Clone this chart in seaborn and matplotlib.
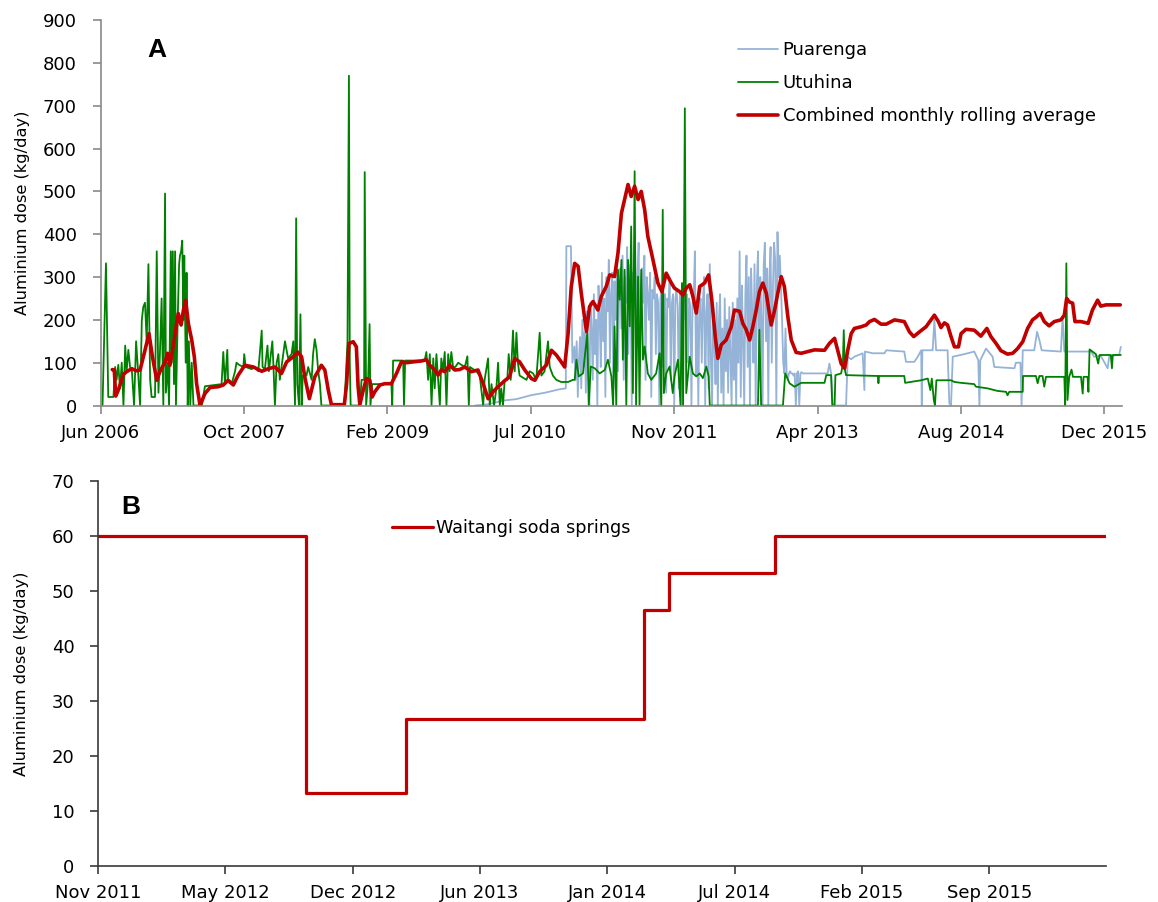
import numpy as np
import pandas as pd
import matplotlib
matplotlib.use("Agg")
import matplotlib.pyplot as plt
import seaborn as sns

# --- panel A: day offsets from 1 Jun 2006, dose in kg/day ---
start_a = pd.Timestamp("2006-06-01")

# Puarenga, sparse parts
puarenga_early_day = [1305, 1350, 1409, 1450, 1500, 1550, 1600, 1622, 1624, 1640, 1645]
puarenga_early_val = [0, 3, 12, 15, 24, 30, 38, 40, 372, 372, 100]
# Puarenga, dense part sampled every 4 days from day 1652 to 2452
puarenga_dense_val = [
    138, 60, 150, 20, 110, 160, 40, 200, 90, 170,
    30, 220, 130, 0, 240, 180, 60, 260, 120, 200,
    0, 280, 210, 90, 310, 150, 250, 20, 300, 220,
    340, 100, 260, 310, 40, 290, 200, 330, 80, 270,
    320, 180, 350, 60, 300, 240, 370, 120, 280, 330,
    0, 310, 260, 360, 150, 300, 380, 90, 280, 320,
    240, 350, 60, 300, 260, 200, 310, 20, 270, 250,
    300, 120, 260, 240, 0, 250, 270, 90, 240, 260,
    30, 250, 230, 290, 60, 240, 260, 0, 250, 270,
    230, 40, 260, 250, 0, 240, 345, 200, 260, 100,
    250, 230, 0, 240, 250, 360, 70, 240, 0, 230,
    250, 100, 240, 300, 0, 220, 260, 40, 330, 100,
    0, 230, 150, 50, 240, 0, 200, 260, 30, 180,
    0, 250, 80, 200, 30, 230, 120, 0, 240, 60,
    200, 0, 250, 100, 360, 20, 280, 150, 0, 260,
    350, 90, 300, 0, 320, 220, 100, 330, 0, 280,
    360, 60, 300, 200, 0, 330, 380, 150, 320, 0,
    300, 370, 100, 270, 380, 340, 0, 405, 300, 350,
    280, 200, 100, 75, 180, 75, 60, 75, 80, 75,
    75, 70, 75, 0, 75, 80, 0, 75, 78, 75,
    75]
puarenga_late_day = [2489, 2535, 2541, 2547, 2553, 2599, 2605, 2617, 2628, 2657, 2663, 2665,
                     2692, 2733, 2739, 2802, 2808, 2837, 2849, 2861, 2863, 2865, 2901, 2907,
                     2913, 2953, 2959, 2965, 2971, 3011, 3046, 3060, 3064, 3067, 3087, 3110,
                     3116, 3186, 3191, 3207, 3211, 3215, 3255, 3265, 3273, 3281, 3348, 3354,
                     3360, 3453, 3464, 3487, 3511, 3517, 3551, 3557]
puarenga_late_val = [75, 75, 98, 75, 0, 0, 114, 108, 114, 122, 36, 126,
                     122, 122, 129, 126, 102, 102, 114, 129, 0, 129, 129, 200,
                     129, 129, 5, 0, 114, 120, 126, 106, 0, 106, 133, 114,
                     90, 87, 100, 100, 0, 129, 129, 172, 153, 129, 126, 207,
                     126, 126, 114, 116, 87, 116, 118, 137]

utuhina_day = [0, 7, 19, 27, 45, 51, 56, 62, 68, 74, 80, 86, 91, 97, 103, 109, 117,
               124, 130, 138, 144, 149, 155, 161, 167, 173, 178, 190, 196, 202, 207,
               213, 219, 225, 228, 234, 239, 245, 248, 252, 256, 260, 263, 269, 274,
               277, 281, 285, 289, 292, 297, 300, 304, 308, 313, 318, 324, 353, 364,
               422, 428, 434, 442, 445, 457, 469, 474, 483, 498, 501, 506, 527, 538,
               550, 562, 565, 573, 582, 587, 599, 603, 608, 614, 620, 625, 643, 654,
               666, 672, 678, 682, 686, 692, 697, 701, 705, 718, 724, 736, 741, 747,
               753, 759, 765, 770, 840,
               850, 854, 861, 866, 869, 872, 904, 910, 919, 921, 926, 933, 938, 941,
               947, 1014, 1017, 1020, 1055, 1058, 1062, 1130, 1136, 1142, 1148, 1154,
               1160, 1165, 1171, 1177, 1183, 1188, 1194, 1200, 1206, 1212, 1217, 1223,
               1229, 1237, 1247, 1258, 1270, 1279, 1284, 1288, 1299, 1310, 1322, 1334,
               1339, 1351, 1357, 1363, 1372, 1380, 1386, 1392, 1397, 1403, 1409, 1418,
               1423, 1430, 1438, 1444, 1450, 1455, 1461, 1473, 1485, 1496, 1508, 1519,
               1531, 1537, 1548, 1560, 1566, 1577, 1589, 1606, 1630, 1647,
               1653, 1659, 1667, 1682, 1697, 1702, 1709, 1723, 1740, 1758, 1769, 1781,
               1787, 1792, 1798, 1804, 1810, 1816, 1821, 1827, 1833, 1839, 1845, 1850,
               1856, 1862, 1867, 1874, 1879, 1885, 1891, 1897, 1908, 1920, 1937, 1949,
               1955, 1960, 1964, 1972, 1984, 1995, 2001, 2013, 2022, 2027, 2031, 2037,
               2042, 2054, 2065, 2077, 2089, 2100, 2112, 2120, 2124, 2292, 2297, 2303,
               2379, 2387, 2402, 2419, 2443, 2489,
               2524, 2530, 2547, 2551, 2559, 2562, 2582, 2588, 2591, 2595, 2599, 2710,
               2712, 2714, 2802, 2805, 2861, 2884, 2893, 2898, 2905, 2909, 2914, 2965,
               2977, 3000, 3046, 3052, 3093, 3128, 3157, 3162, 3168, 3215, 3216, 3261,
               3267, 3273, 3284, 3290, 3296, 3360, 3363, 3367, 3371, 3377, 3385, 3390,
               3418, 3424, 3427, 3441, 3444, 3448, 3470, 3478, 3483, 3522, 3526, 3529,
               3557]
utuhina_val = [0, 0, 332, 20, 20, 90, 60, 95, 40, 100, 0, 140, 80, 130, 90, 85, 0,
               150, 90, 0, 200, 230, 240, 150, 330, 60, 20, 20, 360, 30, 120,
               250, 0, 495, 30, 100, 0, 360, 100, 360, 50, 360, 0, 200, 330,
               350, 360, 385, 200, 350, 100, 310, 0, 150, 0, 100, 0, 0, 45,
               50, 125, 50, 130, 55, 50, 80, 100, 95, 90, 120, 90, 85, 90,
               80, 175, 90, 85, 140, 80, 150, 90, 0, 100, 120, 60, 150, 110,
               120, 150, 0, 437, 50, 0, 213, 0, 70, 70, 90, 60, 120, 155,
               130, 80, 50, 0, 0,
               0, 50, 150, 770, 100, 0, 0, 60, 60, 545, 0, 60, 190, 0,
               50, 50, 0, 105, 105, 0, 105, 105, 125, 60, 120, 0,
               110, 40, 120, 60, 0, 110, 80, 125, 0, 120, 80, 125,
               90, 90, 100, 95, 90, 115, 0, 90, 85, 80, 70, 0,
               60, 110, 0, 50, 0, 40, 100, 0, 40, 0, 60, 60,
               120, 60, 175, 80, 170, 100, 70, 65, 60, 80, 75, 60,
               170, 70, 80, 150, 90, 70, 60, 55, 55, 60,
               60, 107, 68, 75, 169, 0, 91, 87, 75, 83, 107, 68,
               0, 185, 0, 317, 247, 340, 107, 317, 0, 340, 185, 418,
               29, 547, 0, 301, 0, 317, 107, 138, 75, 60, 75, 122,
               0, 457, 29, 75, 91, 29, 68, 107, 0, 286, 0, 694,
               29, 114, 75, 68, 75, 64, 91, 68, 0, 0, 177, 0,
               0, 75, 52, 44, 53, 53,
               53, 71, 71, 0, 0, 71, 75, 98, 176, 83, 71, 69,
               52, 69, 69, 53, 59, 63, 36, 63, 13, 0, 59, 59,
               55, 53, 50, 44, 40, 34, 32, 24, 32, 32, 69, 69,
               52, 69, 69, 44, 67, 67, 0, 332, 13, 67, 84, 67,
               67, 28, 67, 67, 32, 131, 120, 98, 118, 118, 87, 118,
               118]

combined_day = [41, 48, 53, 62, 80, 91, 109, 126, 138, 155, 169, 181, 196, 207, 225,
                234, 242, 250, 260, 271, 281, 289, 297, 306, 318, 327, 335, 347, 364,
                382, 411, 428, 445, 463, 480, 503, 533, 562, 585, 608, 631, 649, 672,
                687, 701, 712, 728, 747, 770, 782, 794, 805, 850,
                858, 866, 881, 892, 898, 904, 916, 927, 939, 947, 956, 974, 991, 1014,
                1032, 1049, 1067, 1090, 1119, 1136, 1148, 1165, 1177, 1188, 1200, 1217,
                1235, 1252, 1270, 1293, 1316, 1334, 1351, 1368, 1386, 1409, 1426, 1444,
                1461, 1479, 1502, 1514, 1531, 1554, 1572, 1589, 1606, 1618, 1630, 1641,
                1653, 1665, 1676, 1694, 1705, 1717, 1734, 1746, 1763, 1775, 1792, 1804,
                1816, 1827, 1839, 1850, 1862, 1874, 1885, 1897, 1908, 1926, 1943, 1957,
                1972, 1990, 2001, 2019, 2030, 2042, 2054, 2065, 2077, 2089, 2106, 2120,
                2131, 2143, 2152, 2164, 2181, 2199, 2210, 2228, 2239, 2251, 2263, 2274,
                2286, 2297, 2309, 2321, 2338, 2350, 2361, 2373, 2384, 2396, 2408, 2425,
                2443, 2466, 2489,
                2524, 2541, 2559, 2570, 2582, 2594, 2605, 2617, 2628, 2652, 2669, 2681,
                2698, 2721, 2739, 2768, 2802, 2820, 2835, 2855, 2878, 2895, 2907, 2921,
                2930, 2942, 2953, 2965, 2977, 2991, 3000, 3017, 3046, 3069, 3090, 3104,
                3122, 3139, 3162, 3180, 3197, 3215, 3232, 3249, 3261, 3276, 3290, 3307,
                3325, 3348, 3360, 3368, 3377, 3389, 3397, 3418, 3443, 3458, 3476, 3487,
                3505, 3555]
combined_val = [84, 83, 22, 36, 73, 79, 86, 81, 83, 129, 168, 114, 59, 79, 102,
                122, 94, 125, 168, 215, 188, 223, 246, 192, 153, 114, 51, 0, 28,
                42, 44, 48, 59, 48, 71, 94, 90, 80, 86, 90, 75, 102, 114,
                125, 114, 67, 16, 67, 94, 83, 36, 2, 2,
                51, 145, 149, 137, 44, 2, 36, 63, 59, 20, 32, 48, 51, 51,
                75, 102, 100, 102, 104, 107, 94, 83, 71, 83, 79, 94,
                83, 84, 90, 79, 83, 51, 16, 32, 44, 58, 67, 110,
                102, 83, 63, 59, 79, 94, 129, 118, 102, 90, 168, 277,
                332, 325, 262, 173, 231, 243, 223, 255, 278, 305, 301, 356,
                449, 481, 516, 488, 512, 481, 500, 457, 395, 340, 286, 266,
                309, 286, 274, 266, 258, 274, 282, 255, 216, 278, 286, 305,
                247, 161, 110, 142, 153, 184, 223, 220, 192, 177, 153, 184,
                223, 266, 286, 262, 188, 223, 262, 301, 278, 208, 153, 124,
                122, 126, 130,
                129, 145, 157, 129, 98, 87, 129, 168, 180, 184, 188, 196,
                201, 190, 190, 200, 196, 172, 161, 172, 184, 200, 211, 196,
                182, 193, 188, 161, 137, 137, 168, 178, 176, 162, 180, 161,
                145, 128, 120, 122, 133, 149, 180, 200, 206, 215, 196, 186,
                196, 200, 211, 250, 242, 239, 196, 196, 192, 223, 246, 232,
                235, 235]

ticks_a_labels = ["Jun 2006", "Oct 2007", "Feb 2009", "Jul 2010",
                  "Nov 2011", "Apr 2013", "Aug 2014", "Dec 2015"]

# --- panel B: Waitangi soda springs step series ---
waitangi_date = ["2011-11-01", "2012-09-22", "2013-02-27", "2014-03-07",
                 "2014-04-16", "2014-09-29", "2016-03-02"]
waitangi_val = [60, 13.3, 26.7, 46.5, 53.2, 60, 60]

ticks_b_labels = ["Nov 2011", "May 2012", "Dec 2012", "Jun 2013",
                  "Jan 2014", "Jul 2014", "Feb 2015", "Sep 2015"]

BLUE = "#95B3D7"
GREEN = "#008000"
RED = "#C00000"
AXC = "#898989"
AXC_B = "#3a3a3a"


def to_frame(days, vals):
    return pd.DataFrame({"date": start_a + pd.to_timedelta(days, unit="D"), "dose": vals})


dense_day = list(range(1652, 1652 + 4 * len(puarenga_dense_val), 4))
puarenga_day = puarenga_early_day + dense_day + puarenga_late_day
puarenga_val = puarenga_early_val + puarenga_dense_val + puarenga_late_val

sns.set_style("ticks")
plt.rcParams["font.family"] = ["DejaVu Sans"]
plt.rcParams["text.color"] = "black"
plt.rcParams["axes.labelcolor"] = "black"

fig = plt.figure(figsize=(11.58, 9.02), dpi=100)
ax1 = fig.add_axes([0.0868, 0.5504, 0.8821, 0.4274])
ax2 = fig.add_axes([0.0846, 0.0399, 0.8705, 0.4268])

# Panel A
sns.lineplot(data=to_frame(puarenga_day, puarenga_val), x="date", y="dose", ax=ax1,
             color=BLUE, lw=1.3, label="Puarenga", estimator=None, sort=False)
sns.lineplot(data=to_frame(utuhina_day, utuhina_val), x="date", y="dose", ax=ax1,
             color=GREEN, lw=1.3, label="Utuhina", estimator=None, sort=False)
sns.lineplot(data=to_frame(combined_day, combined_val), x="date", y="dose", ax=ax1,
             color=RED, lw=2.6, label="Combined monthly rolling average",
             estimator=None, sort=False)

ticks_a = [start_a + pd.Timedelta(days=500 * i) for i in range(len(ticks_a_labels))]
ax1.set_xlim(start_a, start_a + pd.Timedelta(days=3561))
ax1.set_xticks(ticks_a)
ax1.set_xticklabels(ticks_a_labels, fontsize=13)
ax1.set_ylim(0, 900)
ax1.set_yticks(range(0, 901, 100))
ax1.tick_params(axis="y", labelsize=13, pad=11)
ax1.tick_params(axis="x", pad=7)
ax1.set_xlabel("")
ax1.set_ylabel("Aluminium dose (kg/day)", fontsize=11.7)
ax1.yaxis.set_label_coords(-0.069, 0.5)
ax1.legend(loc="upper left", bbox_to_anchor=(0.624, 0.946), frameon=False,
           fontsize=13, borderpad=0, borderaxespad=0, handlelength=2.2,
           handletextpad=0.28, labelspacing=0.84)

# Panel B
df_w = pd.DataFrame({"date": pd.to_datetime(waitangi_date), "dose": waitangi_val})
sns.lineplot(data=df_w, x="date", y="dose", ax=ax2, color=RED, lw=2.3,
             drawstyle="steps-post", label="Waitangi soda springs",
             estimator=None, sort=False)

start_b = pd.Timestamp("2011-11-01")
ticks_b = [start_b + pd.Timedelta(days=200 * i) for i in range(len(ticks_b_labels))]
ax2.set_xlim(start_b, pd.Timestamp("2016-03-02"))
ax2.set_xticks(ticks_b)
ax2.set_xticklabels(ticks_b_labels, fontsize=13)
ax2.set_ylim(0, 70)
ax2.set_yticks(range(0, 71, 10))
ax2.tick_params(axis="y", labelsize=13, pad=11)
ax2.tick_params(axis="x", pad=7)
ax2.set_xlabel("")
ax2.set_ylabel("Aluminium dose (kg/day)", fontsize=11.7)
ax2.yaxis.set_label_coords(-0.068, 0.5)
ax2.legend(loc="center left", bbox_to_anchor=(0.2917, 0.878), frameon=False,
           fontsize=12.7, borderpad=0, borderaxespad=0,
           handlelength=2.33, handletextpad=0.15)

for ax, col in ((ax1, AXC), (ax2, AXC_B)):
    sns.despine(ax=ax)
    for side in ("left", "bottom"):
        ax.spines[side].set_color(col)
        ax.spines[side].set_linewidth(1.2)
    ax.tick_params(axis="both", direction="out", length=6, width=1.2, color=col,
                   labelcolor="black")

fig.text(157 / 1158, 1 - 50 / 902, "A", fontsize=19, fontweight="bold",
         family=["Liberation Sans", "DejaVu Sans"], ha="center", va="center")
fig.text(131 / 1158, 1 - 507 / 902, "B", fontsize=19, fontweight="bold",
         family=["Liberation Sans", "DejaVu Sans"], ha="center", va="center")

fig.savefig("out.png", dpi=100, facecolor="white")
